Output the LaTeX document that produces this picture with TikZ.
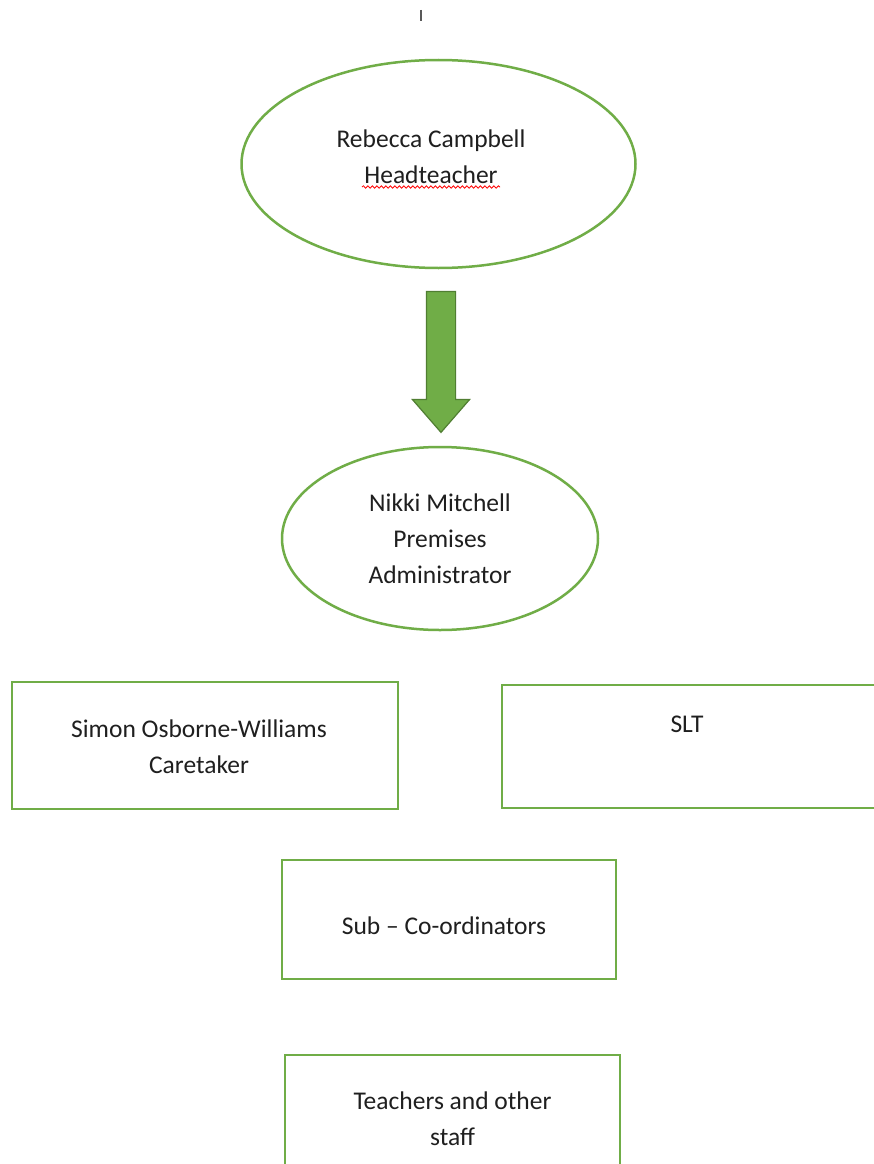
\documentclass[tikz,border=0pt]{standalone}
\usepackage{fontspec}
\setmainfont{Carlito}
\usetikzlibrary{shapes.geometric,shapes.arrows,decorations.pathmorphing}
\definecolor{officegreen}{HTML}{70AD47}
\definecolor{arrowedge}{HTML}{507E32}
\tikzset{
  orgoval/.style={draw=officegreen,line width=2.5pt,ellipse,inner sep=0pt,align=center},
  orgbox/.style={draw=officegreen,line width=2.5pt,rectangle,inner sep=0pt,align=center},
  orgtext/.style={font=\fontsize{25.5}{36}\selectfont,text=black!88}
}
\begin{document}
\begin{tikzpicture}[x=1pt,y=-1pt]
  \useasboundingbox[fill=white] (0,0) rectangle (874,1164);
  \draw[line width=1.8pt,color=black!65] (421,10) -- (421,21);

  \node[orgoval,minimum width=394,minimum height=208] (head) at (438.5,164) {};
  \node[orgtext,align=center] (headtext) at (431,157) {Rebecca Campbell\\Headteacher};
  \draw[red,line width=0.8pt,decorate,decoration={snake,segment length=4.5pt,amplitude=1.2pt}]
    (362,187) -- (500,187);

  \node[single arrow,shape border rotate=270,draw=arrowedge,fill=officegreen,line width=1.2pt,
    inner sep=14pt,minimum height=141,minimum width=0,single arrow head extend=14,
    single arrow tip angle=82] (down) at (441,353.5) {};

  \node[orgoval,orgtext,minimum width=316,minimum height=183] (premises) at (440,538.5)
    {Nikki Mitchell\\Premises\\Administrator};

  \node[orgbox,minimum width=386,minimum height=127] (caretaker) at (205,745.5) {};
  \node[orgtext,align=center] (caretakertext) at (199,747) {Simon Osborne-Williams\\Caretaker};
  \node[orgbox,minimum width=400,minimum height=123] (slt) at (702,746.5) {};
  \node[orgtext] (slttext) at (687,724) {SLT};

  \node[orgbox,minimum width=334,minimum height=119] (subco) at (449,919.5) {};
  \node[orgtext] (subcotext) at (444,926) {Sub -- Co-ordinators};
  \node[orgbox,orgtext,minimum width=335,minimum height=128] (teachers) at (452.5,1119)
    {Teachers and other\\staff};
\end{tikzpicture}
\end{document}
